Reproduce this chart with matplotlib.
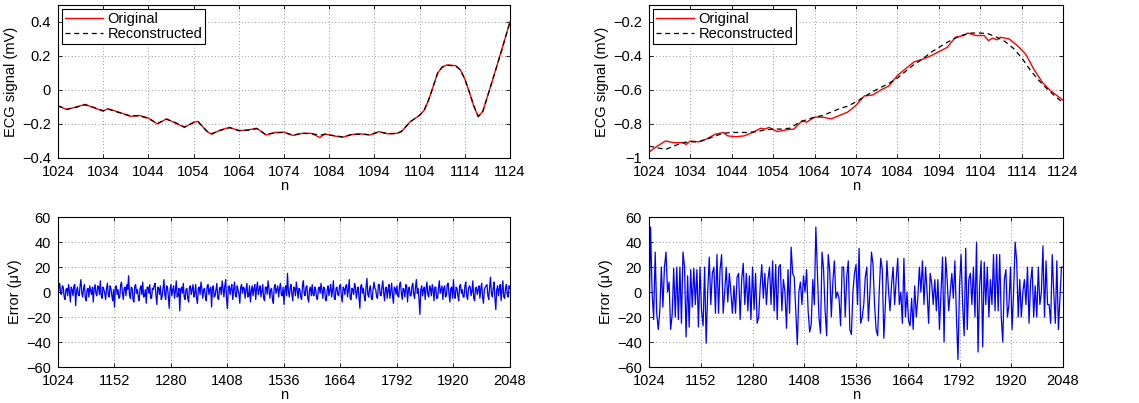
import matplotlib
matplotlib.use('Agg')
import matplotlib.pyplot as plt
from matplotlib.ticker import FuncFormatter
import numpy as np

plt.rcParams['font.family'] = ['Liberation Sans', 'DejaVu Sans']
plt.rcParams['font.size'] = 10.5

# ---- top left: ECG segment (record A) ----
nA = [1024, 1026, 1028, 1030, 1032, 1034, 1035, 1038, 1040, 1042, 1044, 1046, 1048,
      1050, 1052, 1054, 1055, 1057, 1058, 1060, 1062, 1064, 1066, 1068, 1070, 1072,
      1074, 1076, 1078, 1080, 1082, 1083, 1085, 1087, 1089, 1091, 1093, 1095, 1097,
      1099, 1100, 1102, 1104, 1105, 1106, 1107, 1108, 1109, 1110, 1112, 1113, 1114,
      1115, 1116, 1117, 1118, 1120, 1122, 1124]
origA = [-0.095, -0.115, -0.10, -0.085, -0.105, -0.125, -0.11, -0.135, -0.155, -0.15,
         -0.165, -0.20, -0.17, -0.195, -0.22, -0.19, -0.185, -0.245, -0.26, -0.235,
         -0.22, -0.24, -0.235, -0.225, -0.265, -0.25, -0.248, -0.268, -0.255, -0.255,
         -0.28, -0.258, -0.27, -0.278, -0.262, -0.258, -0.265, -0.245, -0.258, -0.255,
         -0.245, -0.185, -0.15, -0.12, -0.06, 0.02, 0.10, 0.135, 0.147, 0.143, 0.12,
         0.065, -0.01, -0.095, -0.158, -0.125, 0.045, 0.22, 0.40]
recA = [-0.093, -0.113, -0.102, -0.087, -0.103, -0.122, -0.112, -0.137, -0.152, -0.152,
        -0.168, -0.197, -0.172, -0.192, -0.218, -0.192, -0.188, -0.243, -0.257, -0.237,
        -0.222, -0.238, -0.237, -0.228, -0.262, -0.252, -0.25, -0.265, -0.255, -0.257,
        -0.265, -0.262, -0.268, -0.276, -0.262, -0.26, -0.263, -0.247, -0.256, -0.257,
        -0.243, -0.187, -0.148, -0.122, -0.058, 0.018, 0.098, 0.133, 0.146, 0.141, 0.118,
        0.067, -0.012, -0.093, -0.155, -0.127, 0.043, 0.218, 0.398]

# ---- top right: ECG segment (record B) ----
nB_orig = [1024, 1026, 1028, 1030, 1032, 1033, 1034, 1036, 1038, 1040, 1042, 1043, 1045,
           1047, 1049, 1051, 1052, 1053, 1055, 1057, 1059, 1061, 1062, 1064, 1066, 1068,
           1070, 1072, 1074, 1076, 1078, 1080, 1082, 1084, 1086, 1088, 1090, 1092, 1094,
           1096, 1098, 1100, 1101, 1103, 1105, 1106, 1107, 1108, 1109, 1111, 1113, 1115,
           1117, 1119, 1121, 1124]
origB = [-0.965, -0.93, -0.90, -0.91, -0.91, -0.92, -0.90, -0.905, -0.887, -0.86, -0.85,
         -0.87, -0.875, -0.87, -0.85, -0.825, -0.83, -0.82, -0.845, -0.835, -0.83, -0.78,
         -0.79, -0.76, -0.76, -0.77, -0.75, -0.73, -0.69, -0.635, -0.63, -0.60, -0.575,
         -0.515, -0.475, -0.435, -0.42, -0.40, -0.375, -0.35, -0.29, -0.28, -0.265,
         -0.28, -0.28, -0.31, -0.295, -0.305, -0.29, -0.30, -0.34, -0.39, -0.48, -0.555,
         -0.605, -0.66]
nB_rec = list(range(1024, 1125, 2))
recB = [-0.93, -0.94, -0.95, -0.93, -0.91, -0.905, -0.905, -0.89, -0.87, -0.855, -0.85,
        -0.85, -0.85, -0.845, -0.835, -0.83, -0.83, -0.825, -0.795, -0.775, -0.76, -0.75,
        -0.73, -0.71, -0.695, -0.67, -0.64, -0.61, -0.585, -0.56, -0.53, -0.49, -0.45,
        -0.42, -0.38, -0.35, -0.32, -0.295, -0.275, -0.265, -0.265, -0.27, -0.29, -0.315,
        -0.355, -0.41, -0.48, -0.54, -0.59, -0.635, -0.675]

# ---- bottom left: reconstruction error A (uV), every 2nd sample ----
errA = [-5, 3, 7, -1, -2, 5, 4, -4, -6, 2, 3, -3, 6, 1, -8, 4, 2, -3, 5, 6, -11, 1, 4, -2, -3, 5, 10, -1, -4, 3, 6, -5,
        -7, 2, 3, -4, 5, 1, -2, 4, -8, 3, 6, -1, -3, 5, 4, -2, 9, -3, -5, 4, 2, -1, -6, 3, 7, -2, -4, 5, 3, -3, -7, 2,
        -12, 4, 5, -2, 2, -5, -4, 6, 8, -1, -6, 3, 4, -3, 6, 2, 13, -2, -5, 4, 3, -6, -8, 5, 6, -1, 2, -4, -7, 3, 5, -2,
        8, -4, -3, 2, -9, 4, 4, -1, 6, -5, -5, 3, 2, 5, 7, -3, -10, 4, 3, -2, 5, -6, -4, 3, 10, -2, -6, 5, 4, -3, -13, 2,
        6, -3, 2, 5, -5, 1, 9, -4, -3, 3, -15, 2, 4, -1, 7, -4, -6, 2, 3, -5, -8, 4, 5, -2, 2, 6, -4, -1, 6, -5, -9, 3,
        4, -2, 8, 3, -5, 2, 3, -4, -7, 5, 6, -2, 2, 4, -12, 3, 5, -4, -3, 2, 7, -5, -6, 3, 4, -2, 9, 3, -4, 5, 10, -6,
        -13, 4, 5, -2, 3, 6, -6, 2, 8, -3, -4, 5, 2, -2, -9, 4, 6, -1, 4, 3, -5, 2, 7, -4, -3, 5, -8, 1, 5, -3, 3, 6,
        -6, 3, 8, -2, 2, 5, -4, 1, 6, -5, -7, 4, 4, -2, 9, 3, -5, 2, 3, -6, -9, 4, 6, -1, 2, 5, -4, 3, 7, -2, -3, 4,
        -10, 2, 5, -3, 15, 1, -4, 3, 6, -2, -7, 4, 3, -3, 8, 2, -5, 3, 2, -4, -6, 5, 9, -1, -3, 4, 5, -5, -8, 2, 4, -3,
        6, -2, -3, 4, 2, -5, -6, 3, 4, -1, 7, 2, -5, 4, 3, -6, -7, 2, 5, -3, 2, 6, -4, 1, 9, -5, -6, 3, 4, -2, -3, 5,
        6, -3, -8, 4, 3, -2, 5, 6, -4, 2, 10, -5, -6, 3, 2, -2, 7, 4, -5, 1, 4, -4, -13, 5, 6, -1, 3, -4, -7, 4, 11, -2,
        -4, 3, 5, -5, -6, 2, 8, 3, 2, -4, -5, 6, 6, -2, -3, 4, 9, -1, -7, 3, 4, -5, 2, 6, -5, 1, 7, -3, -9, 4, 3, -2,
        5, -3, -4, 6, 8, -1, -6, 3, 2, -4, 6, 5, -8, 2, 4, -3, -3, 5, 7, -2, -5, 4, 10, -1, 3, -6, -18, 2, 5, -3, 2, 4,
        -6, 3, 8, -2, -4, 5, 3, -3, 6, 2, -7, 4, 4, -5, -5, 3, 9, -1, 2, 5, -6, 3, 5, -4, -3, 6, 7, -2, -8, 3, 4, -5,
        10, -2, -5, 4, 3, -3, -7, 5, 6, -1, 2, -4, -4, 5, 8, -3, -6, 2, 5, 4, -3, 1, 9, -5, -7, 3, 4, -2, 2, 5, -5, 3,
        7, -4, -9, 2, 4, 5, 6, -3, -6, 4, 12, -1, -4, 3, 8, -5, -14, 2, 5, -3, 3, 6, -7, 2, 9, -4, -5, 3, 6, -2, -4, 5,
        3]

# ---- bottom right: reconstruction error B (uV) ----
errB = [-30, 52, 0, -22, 32, -17, -30, -15, 20, -12, 20, 32, 0, 8, -30, -18, 19, -20, 20,
        -22, 20, -25, 32, 20, -36, 13, -28, 18, -12, 19, -10, 18, -28, 20, -15, -27, 20,
        -41, 0, 28, -10, 15, 20, -17, 30, -17, 18, 30, -17, 0, 20, -8, 15, 0, -17, 5, -17,
        12, 15, -22, 10, 23, -10, 15, -15, 13, -22, 20, -14, 15, -25, -20, 5, 22, -5, 15,
        -10, 10, 20, -10, 25, -15, 22, -22, 20, 22, -15, 10, 0, -29, 18, -17, 36, 15, 12,
        -16, -42, 0, 8, -10, 13, 0, 18, -15, -32, -26, 10, -10, 52, 15, -20, -33, 32, 18,
        -15, -35, 30, 17, -20, 8, 25, -5, 0, -5, -27, 20, 20, -20, 12, 25, -30, -34, 0, 15,
        22, -10, 35, -25, -20, -10, 12, 20, -23, 0, 32, 22, -10, -30, -35, 0, 27, 18, -37,
        -10, 25, 2, -15, 6, 20, -10, 10, 27, -10, 0, -25, 27, -20, 0, -23, -27, -5, -30, 5,
        -20, -5, 20, 0, 25, -10, 20, 0, -25, 15, 7, -10, 10, -15, 10, -30, 0, 28, -40, 28,
        10, -15, 0, 15, -5, 25, -20, -54, 5, 30, -10, -35, 35, -30, 10, 15, -10, 20, -20,
        40, -48, 5, 25, -44, 24, -10, 20, -20, 10, -10, 30, -15, 30, -15, 30, -20, -40, 10,
        18, -20, -10, 20, -30, 0, 40, 25, -20, 10, -20, 0, 10, -10, 20, -25, 8, 20, -20, 5,
        -20, 20, -10, 0, 37, -20, 25, -10, -10, -25, 30, 0, -25, 25, -30, -5, 20, 20]


def fmt(v, pos):
    return f'{v:g}'.replace('-', '\u2212')


def style_axes(ax):
    ax.grid(True, linestyle=(0, (1, 3)), color='0.45', linewidth=0.6)
    ax.tick_params(direction='in', top=True, right=True, length=3, width=0.6,
                   labelsize=10.5)
    ax.tick_params(axis='x', pad=5)
    ax.tick_params(axis='y', pad=5)
    for s in ax.spines.values():
        s.set_linewidth(0.8)
    ax.yaxis.set_major_formatter(FuncFormatter(fmt))
    ax.set_xlabel('n', labelpad=0)


def plot_ecg(ax, n_o, y_o, n_r, y_r, ylim, yticks):
    ax.plot(n_o, y_o, color='red', linewidth=1.0, label='Original')
    ax.plot(n_r, y_r, color='black', linestyle=(0, (4, 3)), linewidth=0.9,
            label='Reconstructed')
    ax.set_xlim(1024, 1124)
    ax.set_xticks(np.arange(1024, 1125, 10))
    ax.set_ylim(*ylim)
    ax.set_yticks(yticks)
    ax.set_ylabel('ECG signal (mV)', labelpad=3)
    style_axes(ax)
    leg = ax.legend(loc='upper left', fancybox=False, framealpha=1, fontsize=10.5,
                    handlelength=2.6, borderpad=0.2, labelspacing=0.05,
                    borderaxespad=0.3, handletextpad=0.3)
    leg.get_frame().set_edgecolor('black')
    leg.get_frame().set_linewidth(0.8)


def plot_err(ax, err):
    n = np.linspace(1024, 2048, len(err))
    ax.plot(n, err, color='blue', linewidth=0.9)
    ax.set_xlim(1024, 2048)
    ax.set_xticks(np.arange(1024, 2049, 128))
    ax.set_ylim(-60, 60)
    ax.set_yticks(np.arange(-60, 61, 20))
    ax.set_ylabel('Error (\u03bcV)', labelpad=3)
    style_axes(ax)


fig = plt.figure(figsize=(11.39, 4.03), dpi=100)
ax1 = fig.add_axes([0.0509, 0.608, 0.3968, 0.3797])
ax2 = fig.add_axes([0.5698, 0.608, 0.3635, 0.3797])
ax3 = fig.add_axes([0.0509, 0.0893, 0.3968, 0.372])
ax4 = fig.add_axes([0.5698, 0.0893, 0.3635, 0.372])

plot_ecg(ax1, nA, origA, nA, recA, (-0.4, 0.5), np.arange(-0.4, 0.41, 0.2))
plot_ecg(ax2, nB_orig, origB, nB_rec, recB, (-1.0, -0.1), np.arange(-1.0, -0.19, 0.2))
plot_err(ax3, errA)
plot_err(ax4, errB)

fig.savefig('out.png', dpi=100)
